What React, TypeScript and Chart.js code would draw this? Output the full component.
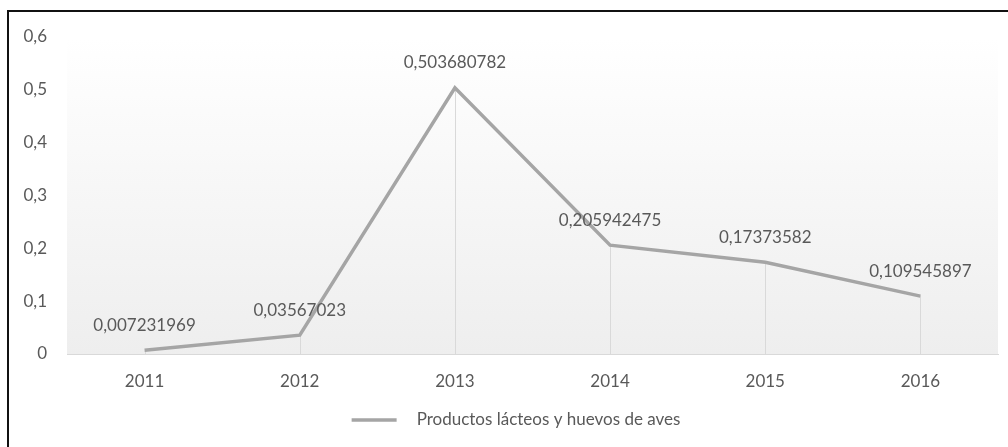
import React, { useEffect, useRef } from "react";
import { Chart, registerables } from "chart.js";

Chart.register(...registerables);

const years = ["2011", "2012", "2013", "2014", "2015", "2016"];
const values = [0.007231969, 0.03567023, 0.503680782, 0.205942475, 0.17373582, 0.109545897];
const valueLabels = ["0,007231969", "0,03567023", "0,503680782", "0,205942475", "0,17373582", "0,109545897"];
const yTicks = [0, 0.1, 0.2, 0.3, 0.4, 0.5, 0.6];
const seriesName = "Productos lácteos y huevos de aves";

const FONT = "Lato, 'Open Sans', sans-serif";
const TEXT = "#595959";
const LINE = "#a5a5a5";

const framePlugin = {
  id: "frame",
  beforeDraw(chart: any) {
    const { ctx, chartArea } = chart;
    ctx.save();
    ctx.fillStyle = "#ffffff";
    ctx.fillRect(0, 0, chart.width, chart.height);
    const g = ctx.createLinearGradient(0, chartArea.top, 0, chartArea.bottom);
    g.addColorStop(0, "#ffffff");
    g.addColorStop(1, "#eeeeee");
    ctx.fillStyle = g;
    ctx.fillRect(chartArea.left, chartArea.top, chartArea.right - chartArea.left, chartArea.bottom - chartArea.top);
    ctx.fillStyle = "#111111";
    ctx.fillRect(7, 10, chart.width - 7, 2);
    ctx.fillRect(7, 10, 2, chart.height - 10);
    ctx.restore();
  },
};

const dropLinesPlugin = {
  id: "dropLines",
  beforeDatasetsDraw(chart: any) {
    const { ctx, scales } = chart;
    const meta = chart.getDatasetMeta(0);
    const bottom = scales.y.getPixelForValue(0);
    ctx.save();
    ctx.strokeStyle = "#d9d9d9";
    ctx.lineWidth = 1;
    meta.data.forEach((pt: any) => {
      const x = Math.round(pt.x) + 0.5;
      ctx.beginPath();
      ctx.moveTo(x, pt.y);
      ctx.lineTo(x, bottom);
      ctx.stroke();
    });
    ctx.restore();
  },
};

const labelsPlugin = {
  id: "valueLabels",
  afterDatasetsDraw(chart: any) {
    const { ctx } = chart;
    const meta = chart.getDatasetMeta(0);
    ctx.save();
    ctx.font = `17px ${FONT}`;
    ctx.fillStyle = TEXT;
    ctx.textAlign = "center";
    ctx.textBaseline = "middle";
    meta.data.forEach((pt: any, i: number) => {
      ctx.fillText(valueLabels[i], pt.x, pt.y - 25);
    });
    ctx.restore();
  },
};

const legendPlugin = {
  id: "customLegend",
  afterDraw(chart: any) {
    const { ctx } = chart;
    ctx.save();
    ctx.font = `17px ${FONT}`;
    const tw = ctx.measureText(seriesName).width;
    const total = 45 + 20 + tw;
    const startX = chart.width / 2 + 12 - total / 2;
    const y = 420;
    ctx.strokeStyle = LINE;
    ctx.lineWidth = 3.5;
    ctx.beginPath();
    ctx.moveTo(startX, y);
    ctx.lineTo(startX + 45, y);
    ctx.stroke();
    ctx.fillStyle = TEXT;
    ctx.textBaseline = "middle";
    ctx.textAlign = "left";
    ctx.fillText(seriesName, startX + 65, y);
    ctx.restore();
  },
};

export default function App() {
  const ref = useRef<HTMLCanvasElement>(null);
  useEffect(() => {
    if (!ref.current) return;
    const chart = new Chart(ref.current, {
      type: "line",
      data: {
        labels: years,
        datasets: [
          {
            label: seriesName,
            data: values,
            borderColor: LINE,
            backgroundColor: LINE,
            borderWidth: 3.5,
            pointRadius: 0,
            tension: 0,
          },
        ],
      },
      options: {
        animation: false,
        responsive: false,
        layout: { padding: { top: 37, left: 0, right: 10, bottom: 0 } },
        plugins: { legend: { display: false }, tooltip: { enabled: false } },
        scales: {
          x: {
            offset: true,
            grid: { display: true, color: "transparent", drawTicks: false },
            border: { display: true, color: "#d9d9d9", width: 1 },
            ticks: { color: TEXT, font: { family: FONT, size: 17 }, padding: 17 },
            afterFit: (s: any) => {
              s.height = 93;
            },
          },
          y: {
            min: 0,
            max: 0.6,
            afterBuildTicks: (s: any) => {
              s.ticks = yTicks.map((v) => ({ value: v }));
            },
            grid: { display: false, drawTicks: false },
            border: { display: false },
            ticks: {
              color: TEXT,
              font: { family: FONT, size: 17 },
              padding: 20,
              callback: (v: any) => (v === 0 ? "0" : Number(v).toFixed(1).replace(".", ",")),
            },
            afterFit: (s: any) => {
              s.width = 67;
            },
          },
        },
      },
      plugins: [framePlugin, dropLinesPlugin, labelsPlugin, legendPlugin],
    });
    return () => chart.destroy();
  }, []);
  return (
    <div style={{ position: "fixed", left: 0, top: 0, width: 1008, height: 447 }}>
      <canvas ref={ref} width={1008} height={447} style={{ display: "block" }} />
    </div>
  );
}
